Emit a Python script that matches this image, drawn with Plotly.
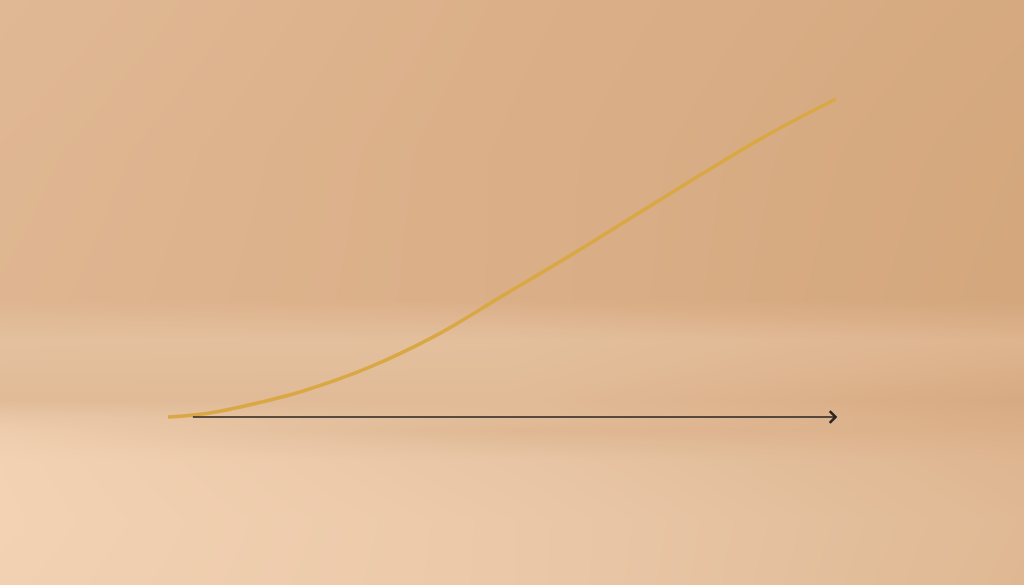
import plotly.graph_objects as go

# curve values (growth along the axis)
x_vals = [0, 0.6, 1.4, 2, 3, 4, 5, 6, 7, 8, 9, 10]
y_vals = [0, 0.12, 0.47, 0.8, 1.55, 2.55, 3.8, 5.05, 6.35, 7.65, 8.9, 10.0]

# axis arrow from / to
axis_start = 0.35
axis_end = 10.02

# background lightness grid (0 dark .. 1 light), columns left/center/right
bg_cols = [0, 512, 1024]
bg_rows = [0, 150, 300, 340, 370, 400, 418, 430, 460, 520, 585]
bg_light = [
    [0.46, 0.30, 0.16],
    [0.42, 0.28, 0.12],
    [0.40, 0.28, 0.10],
    [0.60, 0.58, 0.38],
    [0.56, 0.55, 0.30],
    [0.50, 0.50, 0.18],
    [0.74, 0.52, 0.26],
    [0.84, 0.44, 0.30],
    [0.95, 0.70, 0.40],
    [0.96, 0.76, 0.46],
    [0.94, 0.76, 0.44],
]

bg_scale = [
    [0.0, "rgb(208,162,118)"],
    [0.3, "rgb(219,176,137)"],
    [0.6, "rgb(228,192,158)"],
    [1.0, "rgb(244,212,182)"],
]

fig = go.Figure()

# background gradient, pixel axes underneath
fig.add_trace(go.Heatmap(
    x=bg_cols, y=bg_rows, z=bg_light,
    colorscale=bg_scale, zmin=0, zmax=1, zsmooth="best",
    showscale=False, hoverinfo="skip",
))

fig.add_trace(go.Scatter(
    x=x_vals, y=y_vals,
    mode="lines",
    line=dict(color="#d9a845", width=3.6, shape="spline", smoothing=1),
    hoverinfo="skip",
    xaxis="x2", yaxis="y2",
))

# x axis arrow
fig.add_annotation(
    x=axis_end, y=0, ax=axis_start, ay=0,
    xref="x2", yref="y2", axref="x2", ayref="y2",
    text="", showarrow=True,
    arrowhead=4, arrowsize=1.6, arrowwidth=1.4, arrowcolor="#2a2420",
)

px_per_x = 66.8
px_per_y = 31.8
fig.update_layout(
    width=1024, height=585,
    margin=dict(l=0, r=0, t=0, b=0),
    paper_bgcolor="#dfb68e",
    plot_bgcolor="rgba(0,0,0,0)",
    showlegend=False,
    xaxis=dict(range=[0, 1024], visible=False, fixedrange=True),
    yaxis=dict(range=[585, 0], visible=False, fixedrange=True),
    xaxis2=dict(range=[-168 / px_per_x, (1024 - 168) / px_per_x], visible=False,
                overlaying="x", fixedrange=True),
    yaxis2=dict(range=[-(585 - 417) / px_per_y, 417 / px_per_y], visible=False,
                overlaying="y", fixedrange=True),
)

fig.write_html("out.html", config={"displayModeBar": False},
               post_script="document.body.style.margin='0';")
